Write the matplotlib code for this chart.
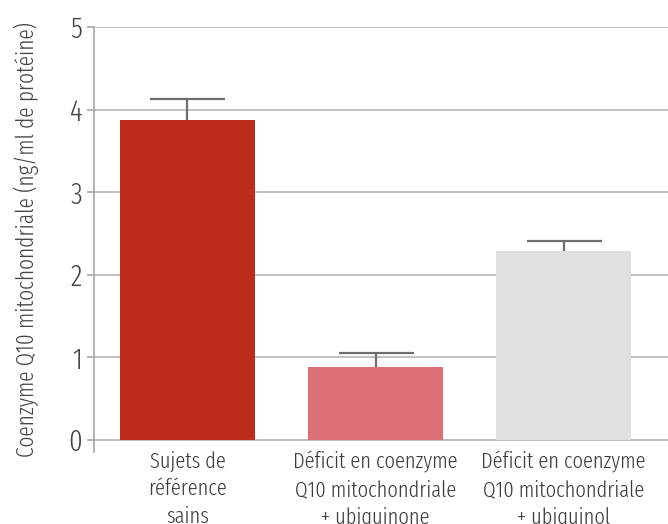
import matplotlib
matplotlib.use("Agg")
import matplotlib.pyplot as plt

# mean values and upper error of mitochondrial CoQ10 per group
groups = ["Sujets de\nréférence\nsains",
          "Déficit en coenzyme\nQ10 mitochondriale\n+ ubiquinone",
          "Déficit en coenzyme\nQ10 mitochondriale\n+ ubiquinol"]
means = [3.87, 0.88, 2.29]
err_up = [0.26, 0.17, 0.12]
colors = ["#bc2b1b", "#db7074", "#e1e0df"]
yticks = [0, 1, 2, 3, 4, 5]

plt.rcParams['font.family'] = ['Fira Sans Extra Condensed', 'DejaVu Sans']
plt.rcParams['font.weight'] = 300

fig = plt.figure(figsize=(6.68, 5.24), dpi=100)
ax = fig.add_axes([0.1407, 0.1366, 0.8593, 0.8118])

xs = range(len(groups))
ax.bar(xs, means, width=0.72, color=colors, zorder=2)
_, caps, _ = ax.errorbar(xs, means, yerr=[[0] * len(means), err_up], fmt="none",
                         ecolor="#6e6e6e", elinewidth=1.6, capsize=27,
                         capthick=1.6, zorder=3)
caps[0].set_visible(False)  # only the upper cap

ax.set_ylim(-0.15, 5)
ax.set_xlim(-0.497, 2.555)
ax.set_yticks(yticks)
ax.set_yticklabels([str(t) for t in yticks], fontsize=21, color="#444444")
for t in yticks:
    ax.axhline(t, color="#b4b4b4", lw=1.2, zorder=1)

ax.set_xticks([])
for i, g in enumerate(groups):
    ax.text(i, -0.13, g, ha="center", va="top", fontsize=16, fontweight=300,
            color="#3c3c3c", linespacing=1.38, clip_on=False)

for s in ["top", "right", "bottom"]:
    ax.spines[s].set_visible(False)
ax.spines["left"].set_color("#a8a8a8")
ax.spines["left"].set_linewidth(1.2)
ax.tick_params(axis="y", length=5, width=1.2, color="#a8a8a8", pad=3.6)

ax.set_ylabel("Coenzyme Q10 mitochondriale (ng/ml de protéine)",
              fontsize=16.7, fontweight=300, color="#444444")
ax.yaxis.set_label_coords(-0.118, 0.5)
ax.yaxis.label.set_verticalalignment("center")

fig.savefig("out.png", dpi=100)
